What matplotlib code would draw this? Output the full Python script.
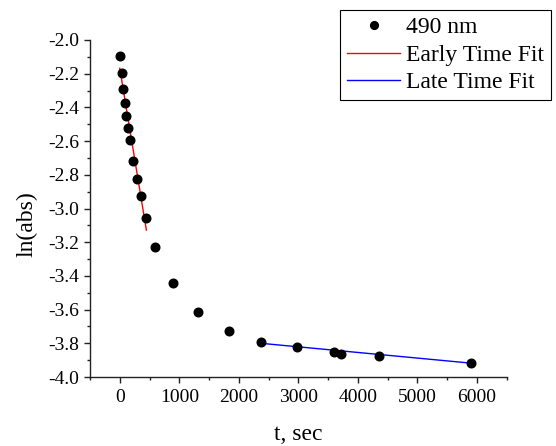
import matplotlib
matplotlib.use("Agg")
import matplotlib.pyplot as plt
from matplotlib.ticker import MultipleLocator, FormatStrFormatter

t_sec = [0, 34, 56, 84, 112, 140, 168, 230, 291, 352, 447, 593, 895, 1320, 1829,
         2372, 2970, 3597, 3720, 4351, 5906]
ln_abs = [-2.093, -2.196, -2.289, -2.376, -2.453, -2.524, -2.594, -2.718, -2.827,
          -2.926, -3.058, -3.230, -3.440, -3.614, -3.725, -3.790, -3.820, -3.854,
          -3.864, -3.877, -3.915]
early_fit_t = [0, 447]
early_fit_y = [-2.168, -3.128]
late_fit_t = [2372, 5906]
late_fit_y = [-3.800, -3.918]

plt.rcParams['font.family'] = ['Liberation Serif', 'DejaVu Serif']

fig = plt.figure(figsize=(5.56, 4.46), dpi=100)
ax = fig.add_axes([90/556, 1-377/446, (506.7-90)/556, (377-40)/446])

pts, = ax.plot(t_sec, ln_abs, 'o', color='black', ms=6.2, label='490 nm', zorder=3)
l1, = ax.plot(early_fit_t, early_fit_y, color='#ff0000', lw=1.0, label='Early Time Fit')
l2, = ax.plot(late_fit_t, late_fit_y, color='#0000ff', lw=1.0, label='Late Time Fit')

ax.set_xlim(-500, 6500)
ax.set_ylim(-4.0, -2.0)
ax.xaxis.set_major_locator(MultipleLocator(1000))
ax.xaxis.set_minor_locator(MultipleLocator(500))
ax.yaxis.set_major_locator(MultipleLocator(0.2))
ax.yaxis.set_minor_locator(MultipleLocator(0.1))
ax.yaxis.set_major_formatter(FormatStrFormatter('%.1f'))
for s in ['top', 'right']:
    ax.spines[s].set_visible(False)
for s in ['left', 'bottom']:
    ax.spines[s].set_linewidth(1.0)
    ax.spines[s].set_color('#222222')
ax.tick_params(which='major', direction='out', length=4.5, width=1, labelsize=14,
               colors='#222222', labelcolor='black')
ax.tick_params(axis='x', which='major', pad=4)
ax.tick_params(axis='y', which='major', pad=3)
ax.tick_params(which='minor', direction='out', length=2.5, width=1, colors='#222222')
ax.set_xlabel('t, sec', fontsize=17, labelpad=13)
ax.set_ylabel('ln(abs)', fontsize=17)
ax.yaxis.set_label_coords(-(90 - 37) / 416.7, 0.4525)

leg = fig.legend(handles=[pts, l1, l2], loc='upper right',
                 bbox_to_anchor=(550.7/556, 1-10/446), fontsize=17,
                 fancybox=False, framealpha=1, edgecolor='black',
                 borderpad=0.28, handlelength=2.25, handletextpad=0.25,
                 labelspacing=0.26, markerscale=0.9, borderaxespad=0)
leg.get_frame().set_linewidth(0.8)

fig.savefig('out.png', dpi=100)
